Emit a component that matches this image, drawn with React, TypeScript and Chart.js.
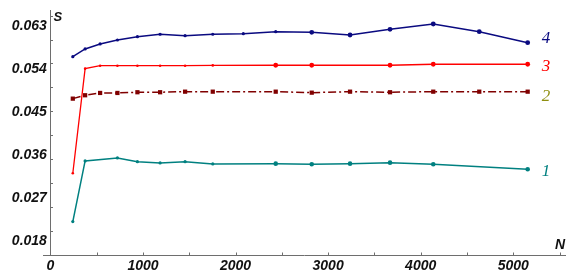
import React, { useEffect, useRef } from "react";
import { Chart, registerables } from "chart.js";

Chart.register(...registerables);

// ---- data ----
const nBlue = [242, 375, 537, 724, 940, 1185, 1455, 1754, 2084, 2434, 2823, 3237, 3669, 4136, 4633, 5156];
const sBlue = [0.05643, 0.05804, 0.05909, 0.05992, 0.06061, 0.06112, 0.06082, 0.06112, 0.06124, 0.06166, 0.06153, 0.06097, 0.06216, 0.06327, 0.06166, 0.05936];

const nRed = [242, 375, 537, 724, 940, 1185, 1455, 1754, 2434, 2823, 3669, 4136, 5156];
const sRed = [0.03202, 0.05392, 0.05454, 0.05454, 0.05454, 0.05454, 0.05454, 0.05460, 0.05463, 0.05463, 0.05463, 0.05484, 0.05484];

const nDark = [242, 375, 537, 724, 940, 1185, 1455, 1754, 2434, 2823, 3237, 3669, 4136, 4633, 5156];
const sDark = [0.04764, 0.04835, 0.04883, 0.04883, 0.04898, 0.04898, 0.0491, 0.0491, 0.0491, 0.04889, 0.0491, 0.04898, 0.0491, 0.0491, 0.0491];

const nTeal = [242, 375, 724, 940, 1185, 1455, 1754, 2434, 2823, 3237, 3669, 4136, 5156];
const sTeal = [0.02189, 0.0346, 0.03523, 0.03445, 0.03418, 0.03445, 0.03397, 0.03403, 0.03391, 0.03403, 0.03424, 0.03391, 0.03286];

const seriesNames = ["4", "3", "2", "1"];

const xLabelTicks = [0, 1000, 2000, 3000, 4000, 5000];
const xLabelText = ["0", "1000", "2000", "3000", "4000", "5000"];
const xMarkTicks = [0, 500, 1000, 1500, 2000, 2500, 3000, 3500, 4000, 4500, 5000, 5500];
const yLabelTicks = [0.018, 0.027, 0.036, 0.045, 0.054, 0.063];
const yLabelText = ["0.018", "0.027", "0.036", "0.045", "0.054", "0.063"];
const yMarkTicks = [0.02, 0.025, 0.03, 0.035, 0.04, 0.045, 0.05, 0.055, 0.06, 0.065];

const X_MIN = -80;
const X_MAX = 5570;
const Y_MIN = 0.0149;
const Y_MAX = 0.0662;

function pts(xs: number[], ys: number[]) {
  return xs.map((x, i) => ({ x, y: ys[i] }));
}

const labelColors = ["#0a0a80", "#ff0000", "#8f8f10", "#008080"];
const labelDy = [-4, 2, 5, 2];

const axesPlugin = {
  id: "mathAxes",
  beforeDatasetsDraw(chart: any) {
    const ctx = chart.ctx;
    const xs = chart.scales.x;
    const ys = chart.scales.y;
    const x0 = xs.getPixelForValue(0);
    const yB = ys.getPixelForValue(Y_MIN);
    const yT = ys.getPixelForValue(Y_MAX);
    const xL = xs.getPixelForValue(X_MIN);
    const xR = xs.getPixelForValue(X_MAX);
    ctx.save();
    ctx.strokeStyle = "#6e6e6e";
    ctx.lineWidth = 1;
    ctx.beginPath();
    ctx.moveTo(xL, Math.round(yB) + 0.5);
    ctx.lineTo(xR, Math.round(yB) + 0.5);
    ctx.moveTo(Math.round(x0) + 0.5, yT);
    ctx.lineTo(Math.round(x0) + 0.5, yB);
    // ticks
    xMarkTicks.forEach((v) => {
      const px = Math.round(xs.getPixelForValue(v)) + 0.5;
      ctx.moveTo(px, Math.round(yB) + 0.5);
      ctx.lineTo(px, Math.round(yB) - 2.5);
    });
    yMarkTicks.forEach((v) => {
      const py = Math.round(ys.getPixelForValue(v)) + 0.5;
      ctx.moveTo(Math.round(x0) + 0.5, py);
      ctx.lineTo(Math.round(x0) + 3, py);
    });
    ctx.stroke();

    ctx.fillStyle = "#111";
    ctx.font = "italic bold 14px 'Liberation Sans', Arial, sans-serif";
    ctx.textBaseline = "middle";
    ctx.textAlign = "right";
    yLabelTicks.forEach((v, i) => {
      ctx.fillText(yLabelText[i], x0 - 3.5, ys.getPixelForValue(v) + 0.5);
    });
    ctx.textAlign = "center";
    xLabelTicks.forEach((v, i) => {
      ctx.fillText(xLabelText[i], xs.getPixelForValue(v), yB + 11.5);
    });
    ctx.textAlign = "left";
    ctx.font = "italic bold 13px 'Liberation Sans', Arial, sans-serif";
    ctx.fillText("S", x0 + 3, yT + 7);
    ctx.font = "italic bold 14px 'Liberation Sans', Arial, sans-serif";
    ctx.fillText("N", xR - 11, yB - 10);
    ctx.restore();
  },
  afterDatasetsDraw(chart: any) {
    const ctx = chart.ctx;
    ctx.save();
    ctx.font = "italic 17px 'Liberation Serif', 'Times New Roman', serif";
    ctx.textBaseline = "middle";
    ctx.textAlign = "left";
    chart.data.datasets.forEach((ds: any, i: number) => {
      const meta = chart.getDatasetMeta(i);
      const last = meta.data[meta.data.length - 1];
      ctx.fillStyle = labelColors[i];
      ctx.fillText(seriesNames[i], last.x + 14, last.y + labelDy[i]);
    });
    ctx.restore();
  },
};

function radii(n: number, bigFrom: number, small: number, big: number) {
  return Array.from({ length: n }, (_, i) => (i >= bigFrom ? big : small));
}

export default function App() {
  const ref = useRef<HTMLCanvasElement | null>(null);
  useEffect(() => {
    document.body.style.margin = "0";
    const canvas = ref.current;
    if (!canvas) return;
    const chart = new Chart(canvas, {
      type: "scatter",
      data: {
        datasets: [
          {
            label: "4",
            data: pts(nBlue, sBlue),
            showLine: true,
            borderColor: "#0a0a80",
            backgroundColor: "#0a0a80",
            borderWidth: 1.5,
            pointRadius: radii(nBlue.length, 10, 1.6, 2.4),
            pointBorderWidth: 0,
          },
          {
            label: "3",
            data: pts(nRed, sRed),
            showLine: true,
            borderColor: "#ff0000",
            backgroundColor: "#ff0000",
            borderWidth: 1.3,
            pointRadius: radii(nRed.length, 8, 1.3, 2.4),
            pointBorderWidth: 0,
          },
          {
            label: "2",
            data: pts(nDark, sDark),
            showLine: true,
            borderColor: "#800000",
            backgroundColor: "#800000",
            borderWidth: 1.5,
            borderDash: [8, 3, 2, 3],
            pointStyle: "rect",
            pointRadius: 3,
            pointBorderWidth: 0,
          },
          {
            label: "1",
            data: pts(nTeal, sTeal),
            showLine: true,
            borderColor: "#008080",
            backgroundColor: "#008080",
            borderWidth: 1.5,
            pointRadius: radii(nTeal.length, 7, 1.6, 2.3),
            pointBorderWidth: 0,
          },
        ],
      },
      options: {
        responsive: false,
        animation: false,
        devicePixelRatio: 1,
        layout: { padding: { left: 43, right: 15, top: 10, bottom: 25 } },
        plugins: { legend: { display: false }, tooltip: { enabled: false } },
        scales: {
          x: { type: "linear", min: X_MIN, max: X_MAX, display: false },
          y: { type: "linear", min: Y_MIN, max: Y_MAX, display: false },
        },
        elements: { line: { tension: 0 } },
      },
      plugins: [axesPlugin],
    } as any);
    return () => chart.destroy();
  }, []);
  return <canvas ref={ref} width={581} height={280} style={{ display: "block" }} />;
}
